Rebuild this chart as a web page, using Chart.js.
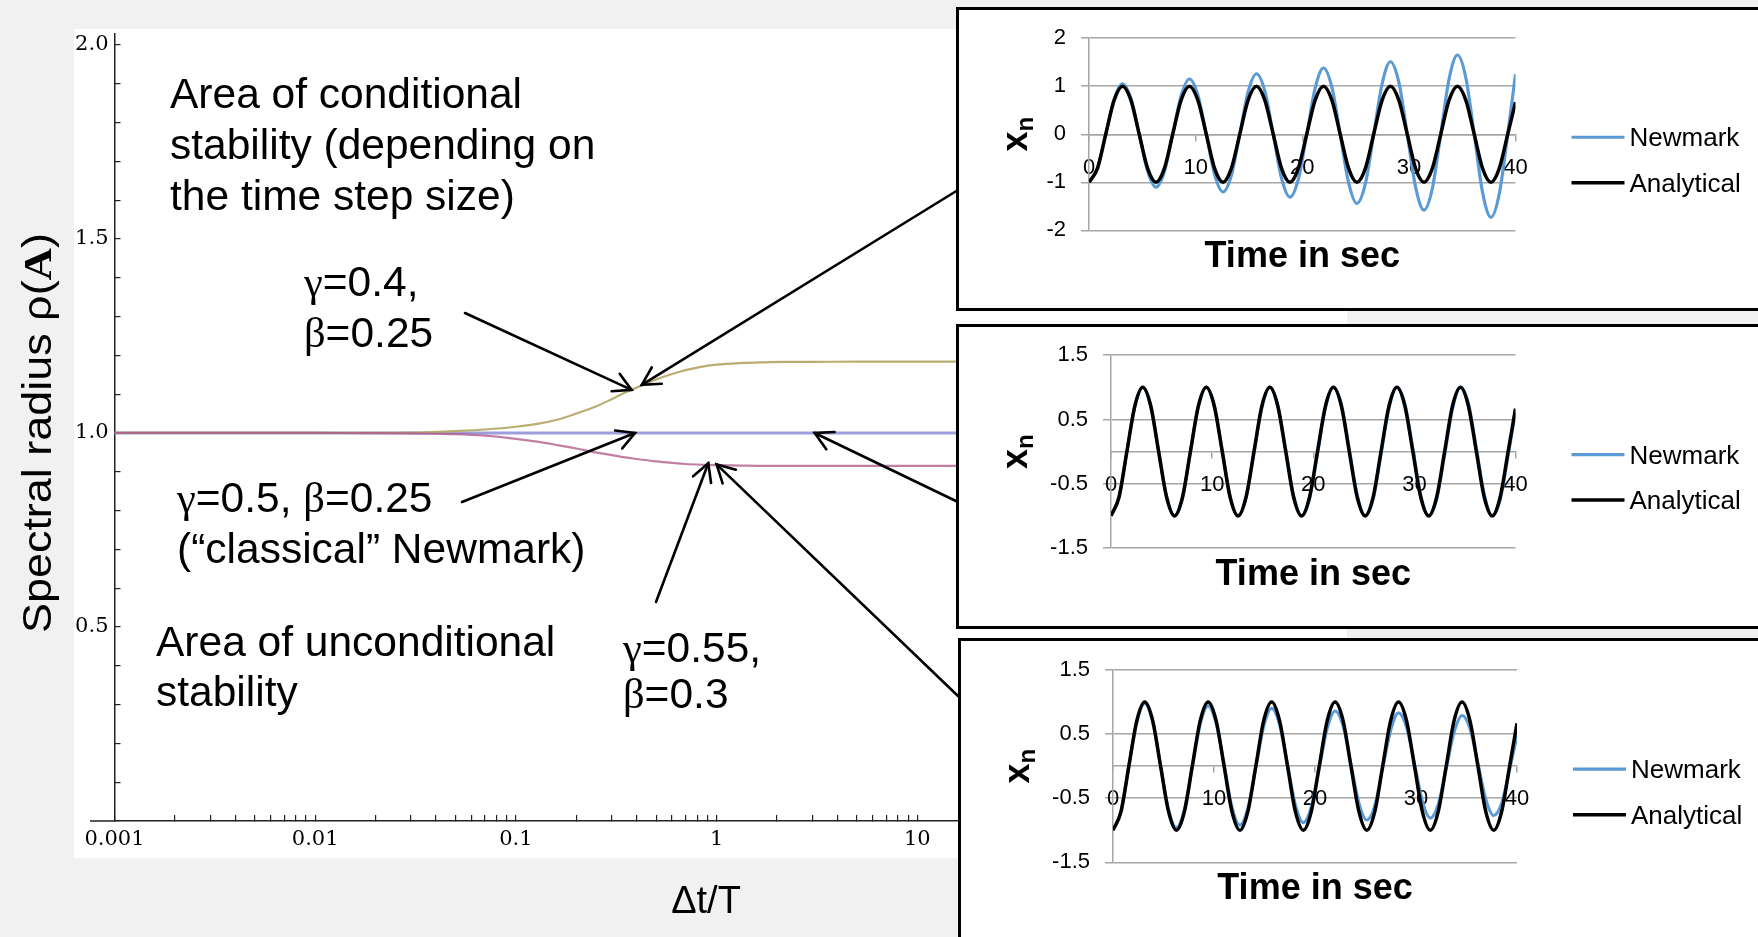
<!DOCTYPE html>
<html><head><meta charset="utf-8">
<script src="https://cdn.jsdelivr.net/npm/chart.js@4.4.1/dist/chart.umd.min.js"></script>
<style>
html,body{margin:0;padding:0;background:#f1f1f1;width:1758px;height:937px;overflow:hidden;}
#main{position:absolute;left:0;top:0;}
.box{position:absolute;border:3px solid #000;background:#fff;box-sizing:border-box;overflow:hidden;}
.box canvas{position:absolute;left:0;top:0;}
</style></head><body>
<canvas id="main" width="1758" height="937"></canvas>
<div class="box" style="left:956px;top:7px;width:810px;height:304px;"><canvas id="c1" width="804" height="298"></canvas></div>
<div class="box" style="left:956px;top:324px;width:810px;height:305px;"><canvas id="c2" width="804" height="299"></canvas></div>
<div class="box" style="left:958px;top:638px;width:810px;height:310px;"><canvas id="c3" width="804" height="304"></canvas></div>
<script>
// ---------- main chart data (spectral radius vs Δt/T) ----------
const dtOverT = [0.001, 0.01, 0.02, 0.03, 0.04, 0.05, 0.07, 0.1, 0.13, 0.16, 0.2, 0.25, 0.3, 0.35, 0.4, 0.5, 0.6, 0.7, 0.85, 1, 1.3, 1.7, 2.2, 3, 5, 10, 100, 1000];
const rhoGamma04 = [1.0, 1.0, 1.0005, 1.001, 1.003, 1.005, 1.009, 1.016, 1.024, 1.034, 1.05, 1.068, 1.087, 1.104, 1.117, 1.138, 1.152, 1.162, 1.171, 1.176, 1.18, 1.182, 1.183, 1.183, 1.184, 1.184, 1.184, 1.184];
const rhoGamma05 = [1, 1, 1, 1, 1, 1, 1, 1, 1, 1, 1, 1, 1, 1, 1, 1, 1, 1, 1, 1, 1, 1, 1, 1, 1, 1, 1, 1];
const rhoGamma055 = [1.0, 1.0, 0.9998, 0.999, 0.998, 0.997, 0.993, 0.985, 0.977, 0.969, 0.96, 0.95, 0.943, 0.937, 0.933, 0.927, 0.923, 0.92, 0.918, 0.917, 0.916, 0.915, 0.915, 0.915, 0.915, 0.915, 0.915, 0.915];
const mainYTicks = [0, 0.1, 0.2, 0.3, 0.4, 0.5, 0.6, 0.7, 0.8, 0.9, 1.0, 1.1, 1.2, 1.3, 1.4, 1.5, 1.6, 1.7, 1.8, 1.9, 2.0];
const mainYLabels = [0.5, 1.0, 1.5, 2.0];

// ---------- inset data (x_n vs time in sec) ----------
const timeSec = [0, 0.79, 1.57, 2.36, 3.14, 3.93, 4.71, 5.50, 6.28, 7.07, 7.85, 8.64, 9.42, 10.21, 11.00, 11.78, 12.57, 13.35, 14.14, 14.92, 15.71, 16.49, 17.28, 18.06, 18.85, 19.63, 20.42, 21.21, 21.99, 22.78, 23.56, 24.35, 25.13, 25.92, 26.70, 27.49, 28.27, 29.06, 29.85, 30.63, 31.42, 32.20, 32.99, 33.77, 34.56, 35.34, 36.13, 36.91, 37.70, 38.48, 39.27, 40];
const analytical = [-1, -0.71, 0, 0.71, 1, 0.71, 0, -0.71,
  -1, -0.71, 0, 0.71, 1, 0.71, 0, -0.71,
  -1, -0.71, 0, 0.71, 1, 0.71, 0, -0.71,
  -1, -0.71, 0, 0.71, 1, 0.71, 0, -0.71,
  -1, -0.71, 0, 0.71, 1, 0.71, 0, -0.71,
  -1, -0.71, 0, 0.71, 1, 0.71, 0, -0.71,
  -1, -0.71, 0, 0.67];
const newmarkGrowing = [-1.00, -0.72, 0, 0.73, 1.05, 0.75, 0, -0.77,
  -1.10, -0.78, 0, 0.80, 1.15, 0.82, 0, -0.84,
  -1.20, -0.86, 0, 0.88, 1.26, 0.90, 0, -0.92,
  -1.31, -0.94, 0, 0.96, 1.38, 0.98, 0, -1.01,
  -1.44, -1.03, 0, 1.05, 1.51, 1.08, 0, -1.10,
  -1.58, -1.13, 0, 1.15, 1.65, 1.18, 0, -1.21,
  -1.73, -1.24, 0, 1.25];
const newmarkClassic = [-1.00, -0.71, 0.00, 0.71, 1.00, 0.71, 0.01, -0.70,
  -1.00, -0.72, -0.01, 0.70, 1.00, 0.72, 0.02, -0.70,
  -1.00, -0.72, -0.02, 0.69, 1.00, 0.72, 0.03, -0.69,
  -1.00, -0.73, -0.03, 0.69, 1.00, 0.73, 0.04, -0.68,
  -1.00, -0.74, -0.04, 0.68, 1.00, 0.74, 0.04, -0.68,
  -1.00, -0.74, -0.05, 0.67, 1.00, 0.75, 0.05, -0.67,
  -1.00, -0.75, -0.06, 0.62];
const newmarkDamped = [-1.00, -0.71, 0.00, 0.69, 0.98, 0.69, 0.01, -0.68,
  -0.96, -0.68, -0.01, 0.66, 0.94, 0.67, 0.02, -0.64,
  -0.92, -0.66, -0.02, 0.62, 0.90, 0.65, 0.02, -0.61,
  -0.88, -0.64, -0.03, 0.59, 0.86, 0.63, 0.03, -0.58,
  -0.84, -0.62, -0.03, 0.56, 0.83, 0.61, 0.04, -0.55,
  -0.81, -0.60, -0.04, 0.53, 0.79, 0.59, 0.04, -0.52,
  -0.77, -0.58, -0.05, 0.48];
const insetXTicks = [0, 10, 20, 30, 40];
const inset1YTicks = [-2, -1, 0, 1, 2];
const inset23YTicks = [-1.5, -0.5, 0.5, 1.5];
const legendLabels = ['Newmark', 'Analytical'];

// ---------- annotation layout (page pixels) ----------
const annotations = [
  {text: 'Area of conditional', x: 170, y: 108},
  {text: 'stability (depending on', x: 170, y: 159},
  {text: 'the time step size)', x: 170, y: 210},
  {text: 'γ=0.4,', x: 304, y: 296},
  {text: 'β=0.25', x: 304, y: 347},
  {text: 'γ=0.5, β=0.25', x: 177, y: 512},
  {text: '(“classical” Newmark)', x: 177, y: 563},
  {text: 'Area of unconditional', x: 156, y: 656},
  {text: 'stability', x: 156, y: 706},
  {text: 'γ=0.55,', x: 623, y: 662},
  {text: 'β=0.3', x: 623, y: 708}
];
// arrow: start in page pixels, tip in data coordinates of the main chart
const arrows = [
  {from: [465, 313], tip: {x: 0.377, y: 1.111}},
  {from: [958, 190], tip: {x: 0.424, y: 1.124}},
  {from: [462, 502], tip: {x: 0.392, y: 1.0}},
  {from: [958, 502], tip: {x: 3.08, y: 1.0}},
  {from: [656, 602], tip: {x: 0.909, y: 0.922}},
  {from: [958, 696], tip: {x: 1.0, y: 0.919}}
];

Chart.defaults.font.family = '"Liberation Sans", Arial, sans-serif';

function drawRich(ctx, text, x, y, size) {
  const runs = [];
  for (const ch of text) {
    const g = /[γβ]/.test(ch);
    if (runs.length && runs[runs.length - 1].g === g) runs[runs.length - 1].s += ch;
    else runs.push({g, s: ch});
  }
  let cx = x;
  for (const r of runs) {
    ctx.font = size + 'px ' + (r.g ? '"Liberation Serif", serif' : '"Liberation Sans", Arial, sans-serif');
    ctx.fillText(r.s, cx, y);
    cx += ctx.measureText(r.s).width;
  }
}

const mainDecor = {
  id: 'mainDecor',
  beforeDraw(chart) {
    const ctx = chart.ctx;
    ctx.save();
    ctx.fillStyle = '#f1f1f1';
    ctx.fillRect(0, 0, chart.width, chart.height);
    ctx.fillStyle = '#ffffff';
    ctx.fillRect(74, 29, 1273, 829);
    ctx.restore();
  },
  afterDraw(chart) {
    const ctx = chart.ctx, xs = chart.scales.x, ys = chart.scales.y;
    ctx.save();
    // axis line extension left of the y axis
    const y0 = ys.getPixelForValue(0);
    ctx.strokeStyle = '#222'; ctx.lineWidth = 1.5;
    ctx.beginPath(); ctx.moveTo(90, y0); ctx.lineTo(xs.left, y0); ctx.stroke();
    // annotation texts
    ctx.fillStyle = '#000'; ctx.textBaseline = 'alphabetic'; ctx.textAlign = 'left';
    annotations.forEach(a => drawRich(ctx, a.text, a.x, a.y, 42.5));
    // arrows
    ctx.strokeStyle = '#000'; ctx.lineWidth = 2.6; ctx.lineCap = 'round';
    arrows.forEach(a => {
      const tx = xs.getPixelForValue(a.tip.x), ty = ys.getPixelForValue(a.tip.y);
      const [fx, fy] = a.from;
      const ang = Math.atan2(ty - fy, tx - fx);
      ctx.beginPath(); ctx.moveTo(fx, fy); ctx.lineTo(tx, ty); ctx.stroke();
      ctx.beginPath();
      ctx.moveTo(tx + 20 * Math.cos(ang + Math.PI - 0.5), ty + 20 * Math.sin(ang + Math.PI - 0.5));
      ctx.lineTo(tx, ty);
      ctx.lineTo(tx + 20 * Math.cos(ang + Math.PI + 0.5), ty + 20 * Math.sin(ang + Math.PI + 0.5));
      ctx.stroke();
    });
    // x axis title
    ctx.font = '38px "Liberation Sans", Arial, sans-serif';
    ctx.textAlign = 'center';
    ctx.fillText('Δt/T', 706, 913);
    // y axis title
    ctx.translate(51, 433);
    ctx.rotate(-Math.PI / 2);
    ctx.textAlign = 'left';
    const parts = [
      {s: 'Spectral radius ρ(', f: '40px "Liberation Sans", Arial, sans-serif'},
      {s: 'A', f: 'bold 40px "Liberation Serif", serif'},
      {s: ')', f: '40px "Liberation Sans", Arial, sans-serif'}
    ];
    let total = 0;
    parts.forEach(p => { ctx.font = p.f; p.w = ctx.measureText(p.s).width; total += p.w; });
    ctx.scale(400 / total, 1);
    let cx = -total / 2;
    parts.forEach(p => { ctx.font = p.f; ctx.fillText(p.s, cx, 0); cx += p.w; });
    ctx.restore();
  }
};

const toXY = (xs, ys) => xs.map((x, i) => ({x, y: ys[i]}));

new Chart(document.getElementById('main'), {
  type: 'line',
  data: {
    datasets: [
      {label: 'γ=0.5, β=0.25', data: toXY(dtOverT, rhoGamma05), borderColor: '#9e9edc', borderWidth: 3, pointRadius: 0, cubicInterpolationMode: 'monotone', order: 2},
      {label: 'γ=0.4, β=0.25', data: toXY(dtOverT, rhoGamma04), borderColor: '#b9ae72', borderWidth: 2.2, pointRadius: 0, cubicInterpolationMode: 'monotone', order: 1},
      {label: 'γ=0.55, β=0.3', data: toXY(dtOverT, rhoGamma055), borderColor: 'rgba(172, 84, 136, 0.75)', borderWidth: 2.2, pointRadius: 0, cubicInterpolationMode: 'monotone', order: 0}
    ]
  },
  options: {
    responsive: false, animation: false, events: [], devicePixelRatio: 1,
    layout: {padding: {left: 0, right: 439.3, top: 33.3, bottom: 56}},
    plugins: {legend: {display: false}, tooltip: {enabled: false}},
    scales: {
      x: {
        type: 'logarithmic', min: 0.001, max: 1000,
        afterBuildTicks: s => {
          s.ticks = s.ticks.filter(t => {
            const m = t.value / Math.pow(10, Math.floor(Math.log10(t.value) + 1e-9));
            return Math.abs(m - 1.5) > 0.01;
          });
        },
        afterFit: s => { s.height = 60; },
        ticks: {
          autoSkip: false, maxRotation: 0, padding: 12, color: '#000',
          font: {family: '"DejaVu Serif", serif', size: 21},
          callback: v => {
            const e = Math.log10(v);
            if (Math.abs(e - Math.round(e)) > 1e-6) return '';
            return v >= 1 ? String(Math.round(v)) : v.toFixed(-Math.round(e));
          }
        },
        grid: {drawOnChartArea: false, drawTicks: true, tickLength: -6, color: '#222', lineWidth: 1.2},
        border: {display: true, color: '#222', width: 1.5}
      },
      y: {
        min: 0, max: 2.03,
        afterBuildTicks: s => { s.ticks = mainYTicks.map(v => ({value: v})); },
        afterFit: s => { s.width = 114.5; },
        ticks: {
          autoSkip: false, padding: 12, color: '#000',
          font: {family: '"DejaVu Serif", serif', size: 21},
          callback: v => mainYLabels.some(l => Math.abs(l - v) < 1e-6) ? v.toFixed(1) : ''
        },
        grid: {drawOnChartArea: false, drawTicks: true, tickLength: -6, color: '#222', lineWidth: 1.2},
        border: {display: true, color: '#222', width: 1.5}
      }
    }
  },
  plugins: [mainDecor]
});

// ---------- insets ----------
const insetDecor = {
  id: 'insetDecor',
  afterDraw(chart) {
    const ctx = chart.ctx, ca = chart.chartArea;
    const cy = (ca.top + ca.bottom) / 2;
    ctx.save();
    // legend
    const offs = [3, 48.5];
    chart.data.datasets.forEach((ds, i) => {
      const y = cy + offs[i];
      const x0 = ca.right + 56;
      ctx.strokeStyle = ds.borderColor; ctx.lineWidth = ds.borderWidth;
      ctx.beginPath(); ctx.moveTo(x0, y); ctx.lineTo(x0 + 53, y); ctx.stroke();
      ctx.fillStyle = '#000';
      ctx.font = '26px "Liberation Sans", Arial, sans-serif';
      ctx.textBaseline = 'middle'; ctx.textAlign = 'left';
      ctx.fillText(ds.label, x0 + 58, y + 2);
    });
    // y axis title x_n
    ctx.translate(68, cy);
    ctx.rotate(-Math.PI / 2);
    ctx.textBaseline = 'alphabetic';
    ctx.font = 'bold 36px "Liberation Sans", Arial, sans-serif';
    const wx = ctx.measureText('x').width;
    ctx.font = 'bold 24px "Liberation Sans", Arial, sans-serif';
    const wn = ctx.measureText('n').width;
    const start = -(wx + wn) / 2;
    ctx.font = 'bold 36px "Liberation Sans", Arial, sans-serif';
    ctx.fillText('x', start, 0);
    ctx.font = 'bold 24px "Liberation Sans", Arial, sans-serif';
    ctx.fillText('n', start + wx, 6);
    ctx.restore();
  }
};

function makeInset(id, geom, yTicks, newmark) {
  const canvas = document.getElementById(id);
  const W = canvas.width, H = canvas.height;
  const yMin = yTicks[0], yMax = yTicks[yTicks.length - 1];
  new Chart(canvas, {
    type: 'line',
    data: {
      datasets: [
        {label: legendLabels[0], data: toXY(timeSec, newmark), borderColor: '#5b9bd5', borderWidth: 3.2, pointRadius: 0, cubicInterpolationMode: 'monotone', order: 1},
        {label: legendLabels[1], data: toXY(timeSec, analytical), borderColor: '#000000', borderWidth: 3.5, pointRadius: 0, cubicInterpolationMode: 'monotone', order: 0}
      ]
    },
    options: {
      responsive: false, animation: false, events: [], devicePixelRatio: 1,
      layout: {padding: {left: 0, right: W - geom.right, top: geom.top, bottom: H - geom.bottom - 43.2 - 5.5}},
      plugins: {
        legend: {display: false}, tooltip: {enabled: false},
        title: {display: true, text: 'Time in sec', position: 'bottom', fullSize: false, color: '#000',
          font: {size: 36, weight: 'bold', lineHeight: 1.2}, padding: {top: 5.5, bottom: 0}}
      },
      scales: {
        x: {
          type: 'linear', min: 0, max: 40, position: {y: 0},
          afterBuildTicks: s => { s.ticks = insetXTicks.map(v => ({value: v})); },
          ticks: {font: {size: 22}, color: '#000', padding: 14, autoSkip: false, maxRotation: 0, callback: v => String(v)},
          grid: {drawOnChartArea: false, drawTicks: true, tickLength: 6, color: '#a6a6a6', lineWidth: 1.5},
          border: {display: true, color: '#a6a6a6', width: 1.5}
        },
        y: {
          min: yMin, max: yMax,
          afterBuildTicks: s => { s.ticks = yTicks.map(v => ({value: v})); },
          afterFit: s => { s.width = geom.left; },
          ticks: {font: {size: 22}, color: '#000', padding: 15, autoSkip: false, callback: v => String(v)},
          grid: {color: '#a6a6a6', lineWidth: 1.5, tickLength: 8},
          border: {display: true, color: '#a6a6a6', width: 1.5}
        }
      }
    },
    plugins: [insetDecor]
  });
}

makeInset('c1', {left: 130, right: 556.5, top: 27.7, bottom: 220.3}, inset1YTicks, newmarkGrowing);
makeInset('c2', {left: 152, right: 556.5, top: 28, bottom: 221}, inset23YTicks, newmarkClassic);
makeInset('c3', {left: 152, right: 556, top: 29, bottom: 221.3}, inset23YTicks, newmarkDamped);
</script>
</body></html>
